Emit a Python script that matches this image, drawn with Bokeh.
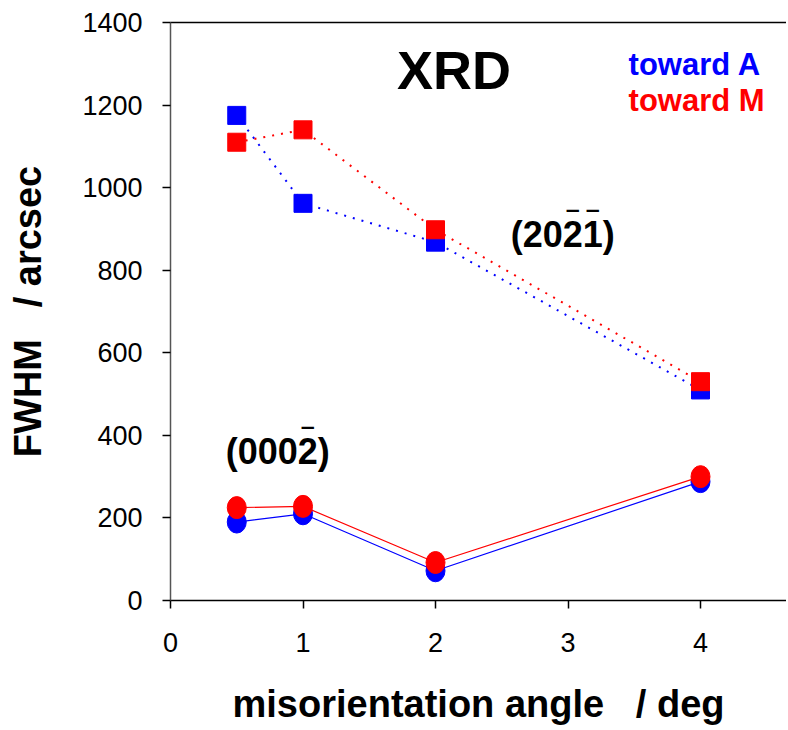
from bokeh.plotting import figure
from bokeh.models import Range1d, FixedTicker, LinearAxis, Label
from bokeh.embed import file_html
from bokeh.resources import INLINE

# ---- data ----
angles = [0.5, 1, 2, 4]
sq_toward_A = [1175, 962, 868, 510]     # (20-2-1) toward A
sq_toward_M = [1110, 1140, 898, 530]    # (20-2-1) toward M
ci_toward_A = [190, 210, 72, 288]       # (000-2) toward A
ci_toward_M = [225, 228, 92, 300]       # (000-2) toward M
x_ticks = [0, 1, 2, 3, 4]
y_ticks = [0, 200, 400, 600, 800, 1000, 1200, 1400]

BLUE = "#0000FF"
RED = "#FF0000"
FONT = "Liberation Sans"
NB = "\u00a0"

p = figure(width=786, height=730, output_backend="svg", toolbar_location=None,
           x_range=Range1d(0, 4.649), y_range=Range1d(0, 1400),
           min_border_left=170, min_border_right=0, min_border_top=22, min_border_bottom=130)
p.xgrid.visible = False
p.ygrid.visible = False
p.outline_line_color = None
p.background_fill_color = "white"
p.border_fill_color = "white"

for ax, ticks in ((p.xaxis[0], x_ticks), (p.yaxis[0], y_ticks)):
    ax.ticker = FixedTicker(ticks=ticks)
    ax.minor_tick_line_color = None
    ax.major_tick_in = 0
    ax.major_tick_out = 8
    ax.major_label_text_font = FONT
    ax.major_label_text_font_size = "27px"
    ax.major_label_text_color = "black"
    ax.axis_label_text_font = FONT
    ax.axis_label_text_font_style = "bold"
    ax.axis_label_text_font_size = "38px"
    ax.axis_label_text_color = "black"
    ax.axis_line_width = 1.5
    ax.major_tick_line_width = 1.5

p.yaxis[0].major_label_standoff = 20
p.xaxis[0].major_label_standoff = 24
p.yaxis[0].axis_line_color = "#555555"
p.xaxis[0].axis_line_color = "black"
p.xaxis[0].axis_label = "misorientation angle" + NB * 3 + "/ deg"
p.yaxis[0].axis_label = "FWHM" + NB * 3 + "/ arcsec"
p.xaxis[0].axis_label_standoff = 28
p.yaxis[0].axis_label_standoff = 30

top = LinearAxis(ticker=FixedTicker(ticks=[]), axis_line_color="black", axis_line_width=1.5,
                 major_tick_line_color=None, minor_tick_line_color=None,
                 major_label_text_font_size="0px")
p.add_layout(top, "above")

# (20-2-1) squares, dotted
p.line(angles, sq_toward_A, line_color=BLUE, line_width=2, line_dash="2 7")
p.scatter(angles, sq_toward_A, marker="square", size=18, fill_color=BLUE, line_color=BLUE)
p.line(angles, sq_toward_M, line_color=RED, line_width=2, line_dash="2 7")
p.scatter(angles, sq_toward_M, marker="square", size=18, fill_color=RED, line_color=RED)

# (000-2) circles, solid
p.line(angles, ci_toward_A, line_color=BLUE, line_width=1.2)
p.ellipse(angles, ci_toward_A, width=19, height=22, width_units="screen", height_units="screen",
          fill_color=BLUE, line_color=BLUE)
p.line(angles, ci_toward_M, line_color=RED, line_width=1.2)
p.ellipse(angles, ci_toward_M, width=19, height=22, width_units="screen", height_units="screen",
          fill_color=RED, line_color=RED)

def lab(x, y, text, size, color="black", align="center", xo=0, yo=0, bold=True):
    p.add_layout(Label(x=x, y=y, text=text, text_font=FONT,
                       text_font_style="bold" if bold else "normal",
                       text_font_size=size, text_color=color, text_align=align,
                       text_baseline="middle", x_offset=xo, y_offset=yo))

lab(2.14, 1286, "XRD", "54px")
lab(3.457, 1298, "toward A", "31px", BLUE, "left")
lab(3.457, 1212, "toward M", "31px", RED, "left")

# Miller-index labels; overbars drawn as separate overline glyphs
lab(2.96, 886, "(2021)", "36px")
lab(2.96, 886, "\u203e", "27px", xo=10, yo=12)
lab(2.96, 886, "\u203e", "27px", xo=30, yo=12)
lab(0.81, 360, "(0002)", "36px")
lab(0.81, 360, "\u203e", "27px", xo=30, yo=12)

open("out.html", "w").write(file_html(p, INLINE))
